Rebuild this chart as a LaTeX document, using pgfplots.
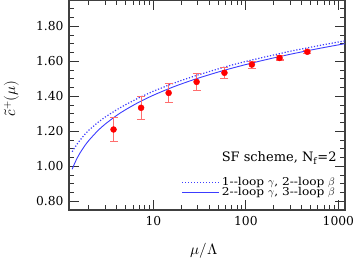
\documentclass[border=0pt]{standalone}
\usepackage{pgfplots}
\pgfplotsset{compat=1.18}
\usepackage{fontspec}
\usepackage{unicode-math}
\setmainfont{DejaVu Serif}
\setmathfont{Latin Modern Math}
\newfontfamily\legfont[FakeStretch=1.13]{DejaVu Serif}
\definecolor{curveblue}{RGB}{60,60,255}
\definecolor{ptred}{RGB}{255,0,0}
\definecolor{errred}{RGB}{255,110,110}
\begin{document}
\begin{tikzpicture}
\path[use as bounding box] (-69pt,-50pt) rectangle (285pt,210pt);
\begin{axis}[
  at={(0pt,0pt)}, anchor=south west,
  scale only axis, width=276pt, height=210pt,
  xmode=log, xmin=1.22, xmax=1180,
  ymin=0.75, ymax=1.95,
  xtick={10,100,1000}, xticklabels={10,100,1000},
  minor xtick={2,3,4,5,6,7,8,9,20,30,40,50,60,70,80,90,200,300,400,500,600,700,800,900},
  ytick={0.8,1.0,1.2,1.4,1.6,1.8},
  minor ytick={0.75,0.85,0.9,0.95,1.05,1.1,1.15,1.25,1.3,1.35,1.45,1.5,1.55,1.65,1.7,1.75,1.85,1.9},
  yticklabel style={/pgf/number format/fixed, /pgf/number format/fixed zerofill, /pgf/number format/precision=2, /pgf/number format/assume math mode=true, xshift=-2pt},
  tick align=inside, major tick length=10pt, minor tick length=5pt,
  every tick/.style={black!80, line width=0.9pt},
  axis line style={black!75, line width=1.3pt},
  tick label style={font=\fontsize{12.3}{14}\selectfont},
  xticklabel style={yshift=-3pt},
  xlabel={$\mu/\Lambda$}, ylabel={$\tilde{c}^{+}(\mu)$},
  xlabel style={font=\fontsize{15}{17}\selectfont, at={(rel axis cs:0.49,0)}, anchor=base, yshift=-45pt},
  ylabel style={font=\fontsize{15}{17}\selectfont, at={(rel axis cs:0,0.53)}, anchor=center, yshift=57pt, xshift=0pt},
  legend style={at={(rel axis cs:0.975,0.045)}, anchor=south east, draw=none, fill=none,
    font=\legfont\fontsize{10.8}{11}\selectfont, row sep=-3.5pt, inner sep=1pt},
  legend image code/.code={\draw[#1] (0pt,0pt) -- (37pt,0pt);},
  legend cell align=right,
  clip=true,
]
\addplot[color=curveblue, line width=1.2pt, dash pattern=on 1.2pt off 1.8pt] coordinates {
(1.32,1.083)(1.4,1.105)(1.5,1.128)(1.6,1.148)(1.8,1.181)(2,1.206)(2.5,1.250)(3,1.281)
(4,1.323)(5,1.352)(7,1.392)(10,1.429)(15,1.466)(20,1.490)(30,1.521)(50,1.556)(70,1.578)
(100,1.599)(150,1.621)(200,1.636)(300,1.657)(500,1.680)(700,1.695)(1000,1.710)(1180,1.716)};
\addlegendentry{1--loop $\gamma$, 2--loop $\beta$}
\addplot[color=curveblue, line width=0.9pt, smooth] coordinates {
(1.32,0.983)(1.4,1.015)(1.5,1.048)(1.6,1.0745)(1.8,1.116)(2,1.1475)(2.5,1.2031)(3,1.2406)
(4,1.2904)(5,1.3234)(7,1.3667)(10,1.4062)(15,1.4453)(20,1.4702)(30,1.5022)(50,1.5382)
(70,1.5598)(100,1.5813)(150,1.6040)(200,1.6192)(300,1.6396)(500,1.6636)(700,1.6785)
(1000,1.6936)(1180,1.7004)};
\addlegendentry{2--loop $\gamma$, 3--loop $\beta$}
\addplot[only marks, mark=*, mark size=3pt, color=ptred, forget plot,
  error bars/.cd, y dir=both, y explicit,
  error bar style={draw=errred, color=errred, line width=1.1pt},
  error mark options={draw=errred, color=errred, line width=1.1pt, mark size=4pt, rotate=90}]
  coordinates {
(3.70,1.210) +- (0,0.070)
(7.35,1.334) +- (0,0.067)
(14.6,1.419) +- (0,0.056)
(29.3,1.482) +- (0,0.047)
(58.6,1.534) +- (0,0.031)
(116,1.581) +- (0,0.020)
(231,1.619) +- (0,0.012)
(462,1.654) +- (0,0.008)};
\node[anchor=east, font=\fontsize{13}{14}\selectfont, inner sep=0pt] at (rel axis cs:0.97,0.248) {SF scheme, N$_\mathrm{f}$=2};
\end{axis}
\end{tikzpicture}
\end{document}
